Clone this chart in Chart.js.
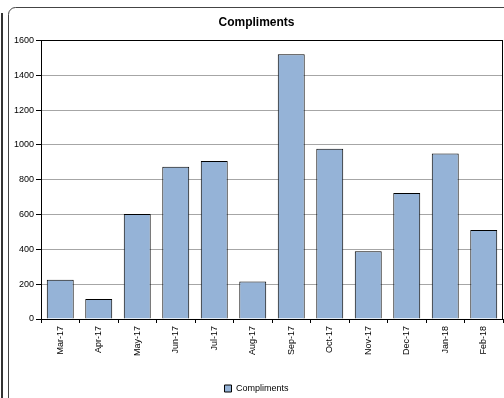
<!DOCTYPE html>
<html>
<head>
<meta charset="utf-8">
<script src="https://cdn.jsdelivr.net/npm/chart.js@4/dist/chart.umd.min.js"></script>
<style>
  html, body { margin: 0; padding: 0; background: #fff; }
  #wrap { position: relative; width: 504px; height: 398px; }
</style>
</head>
<body>
<div id="wrap"><canvas id="c" width="504" height="398"></canvas></div>
<script>
// Monthly compliments received
const months = ['Mar-17', 'Apr-17', 'May-17', 'Jun-17', 'Jul-17', 'Aug-17',
                'Sep-17', 'Oct-17', 'Nov-17', 'Dec-17', 'Jan-18', 'Feb-18'];
const compliments = [226, 115, 603, 874, 908, 215, 1520, 978, 389, 723, 950, 511];
const seriesName = 'Compliments';
const chartTitle = 'Compliments';

const FONT = 'Arial, "Liberation Sans", sans-serif';

// Frame around the chart and border of the plot area
const framePlugin = {
  id: 'frame',
  beforeDraw(chart) {
    const ctx = chart.ctx;
    ctx.save();
    ctx.fillStyle = '#fff';
    ctx.fillRect(0, 0, chart.width, chart.height);
    // outer left rule
    ctx.strokeStyle = '#333';
    ctx.lineWidth = 2;
    ctx.beginPath();
    ctx.moveTo(2, 13);
    ctx.lineTo(2, chart.height);
    ctx.stroke();
    // rounded card
    ctx.strokeStyle = '#444';
    ctx.lineWidth = 1;
    const x = 8.5, y = 7.5, r = 7;
    ctx.beginPath();
    ctx.moveTo(x, chart.height + 5);
    ctx.lineTo(x, y + r);
    ctx.arcTo(x, y, x + r, y, r);
    ctx.lineTo(chart.width + 5, y);
    ctx.stroke();
    ctx.restore();
  },
  afterDatasetsDraw(chart) {
    const a = chart.chartArea;
    const ctx = chart.ctx;
    ctx.save();
    ctx.strokeStyle = '#000';
    ctx.lineWidth = 1;
    ctx.strokeRect(Math.round(a.left) + 0.5, Math.round(a.top) + 0.5,
                   Math.round(a.right - a.left) - 1, Math.round(a.bottom - a.top));
    ctx.restore();
  }
};

new Chart(document.getElementById('c'), {
  type: 'bar',
  data: {
    labels: months,
    datasets: [{
      label: seriesName,
      data: compliments,
      backgroundColor: '#95B3D7',
      borderColor: '#000',
      borderWidth: 1,
      barPercentage: 0.7,
      categoryPercentage: 1
    }]
  },
  options: {
    responsive: false,
    animation: false,
    devicePixelRatio: 1,
    layout: { padding: { left: 10, right: 1, top: 0, bottom: -5 } },
    plugins: {
      title: {
        display: true,
        text: chartTitle,
        color: '#000',
        font: { family: FONT, size: 12, weight: 'bold' },
        padding: { top: 15, bottom: 11 }
      },
      legend: {
        position: 'bottom',
        labels: {
          color: '#000',
          font: { family: FONT, size: 9 },
          boxWidth: 7,
          boxHeight: 7,
          padding: 3
        }
      },
      tooltip: { enabled: false }
    },
    scales: {
      x: {
        offset: true,
        grid: {
          offset: true,
          drawOnChartArea: false,
          tickColor: '#000',
          tickLength: 4
        },
        border: { color: '#000' },
        ticks: {
          color: '#000',
          font: { family: FONT, size: 9 },
          minRotation: 90,
          maxRotation: 90,
          autoSkip: false,
          padding: 3
        },
        afterFit(scale) { scale.height = 62; }
      },
      y: {
        min: 0,
        max: 1600,
        ticks: {
          stepSize: 200,
          color: '#000',
          font: { family: FONT, size: 9 },
          padding: 2,
          callback: (v) => String(v)
        },
        grid: {
          color: '#a6a6a6',
          tickColor: '#000',
          tickLength: 5
        },
        border: { color: '#000' },
        afterFit(scale) { scale.width = 31; }
      }
    }
  },
  plugins: [framePlugin]
});
</script>
</body>
</html>
